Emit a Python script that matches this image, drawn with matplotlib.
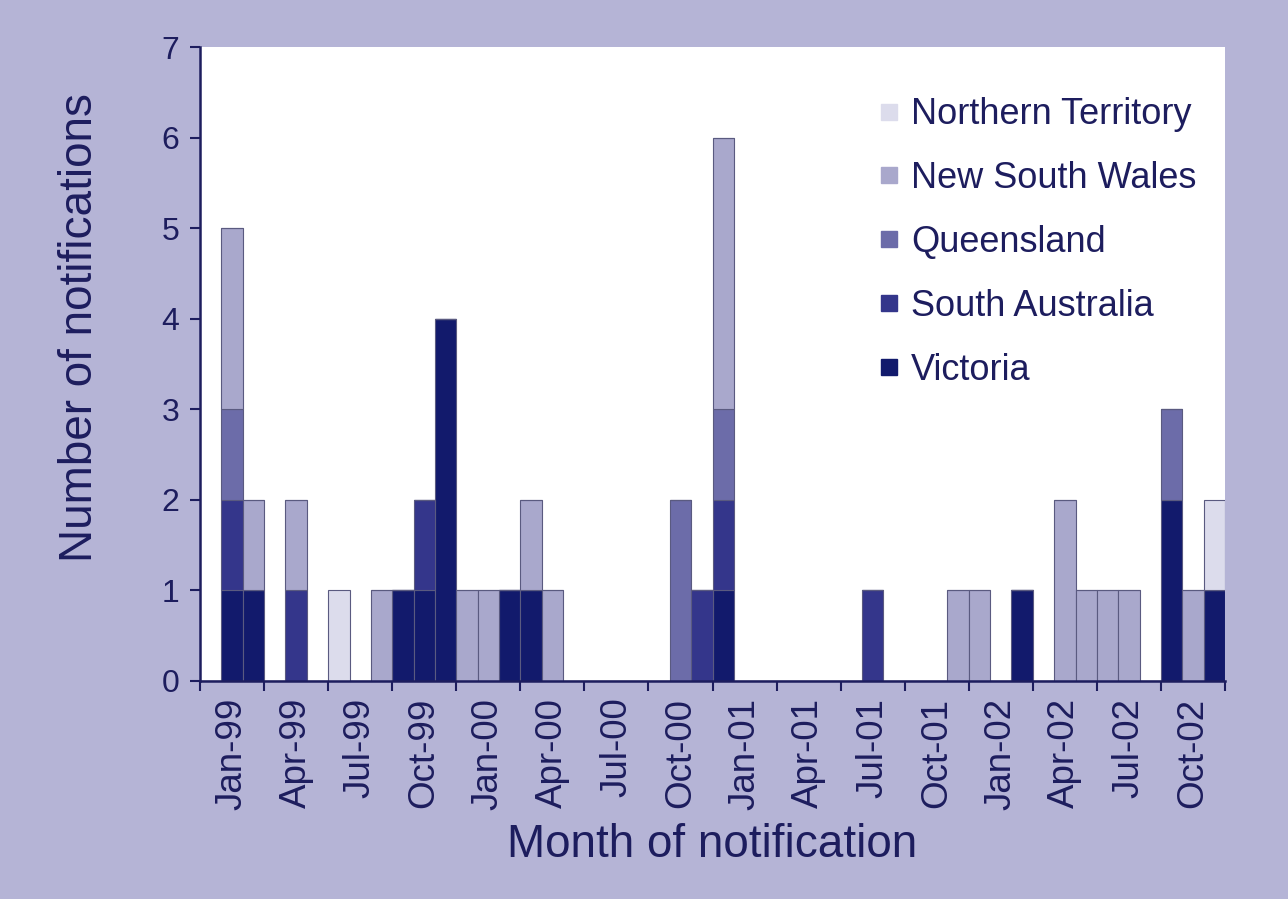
import numpy as np
import matplotlib.pyplot as plt
from matplotlib.lines import Line2D

plt.rcParams['font.family'] = ['Liberation Sans', 'DejaVu Sans']

# months on the axis, Jan-99 .. Dec-02
years = ['99', '00', '01', '02']
mnames = ['Jan', 'Feb', 'Mar', 'Apr', 'May', 'Jun', 'Jul', 'Aug', 'Sep', 'Oct', 'Nov', 'Dec']
months = [m + '-' + y for y in years for m in mnames]

# notifications per month for each state
nt  = [0,0,0,0,0,0,1,0,0,0,0,0, 0,0,0,0,0,0,0,0,0,0,0,0, 0,0,0,0,0,0,0,0,0,0,0,0, 0,0,0,0,0,0,0,0,0,0,0,1]
nsw = [0,2,1,0,1,0,0,0,1,0,0,0, 1,1,0,1,1,0,0,0,0,0,0,0, 3,0,0,0,0,0,0,0,0,0,0,1, 1,0,0,0,2,1,1,1,0,0,1,0]
qld = [0,1,0,0,0,0,0,0,0,0,0,0, 0,0,0,0,0,0,0,0,0,0,2,0, 1,0,0,0,0,0,0,0,0,0,0,0, 0,0,0,0,0,0,0,0,0,1,0,0]
sa  = [0,1,0,0,1,0,0,0,0,0,1,0, 0,0,0,0,0,0,0,0,0,0,0,1, 1,0,0,0,0,0,0,1,0,0,0,0, 0,0,0,0,0,0,0,0,0,0,0,0]
vic = [0,1,1,0,0,0,0,0,0,1,1,4, 0,0,1,1,0,0,0,0,0,0,0,0, 1,0,0,0,0,0,0,0,0,0,0,0, 0,0,1,0,0,0,0,0,0,2,0,1]

states = ['Victoria', 'South Australia', 'Queensland', 'New South Wales', 'Northern Territory']
series = [vic, sa, qld, nsw, nt]
colors = ['#121a6c', '#34368b', '#6c6ca9', '#a9a8cc', '#dcdcec']

txt = '#1d1d5e'
bg = '#b5b4d6'

fig = plt.figure(figsize=(12.88, 8.99), dpi=100)
fig.patch.set_facecolor(bg)
ax = fig.add_axes([0.1553, 0.2425, 0.7958, 0.7052])
ax.set_facecolor('white')

x = np.arange(len(months)) + 0.5
bottom = np.zeros(len(months))
for vals, col in zip(series, colors):
    vals = np.array(vals)
    ax.bar(x, vals, width=1.0, bottom=bottom, color=col,
           edgecolor='#5a5a80', linewidth=0.8)
    bottom += vals

ax.set_xlim(0, len(months))
ax.set_ylim(0, 7)
ax.set_yticks(range(8))

# ticks every quarter, labels centred in each quarter
ax.set_xticks(np.arange(0, len(months) + 1, 3))
ax.set_xticklabels([])
ax.set_xticks(np.arange(1.5, len(months), 3), minor=True)
ax.set_xticklabels(months[::3], minor=True, rotation=90, fontsize=26.5, color=txt)
ax.tick_params(axis='x', which='minor', length=0, pad=12)
ax.tick_params(axis='x', which='major', length=7, width=1.5, color=txt, direction='out')
ax.tick_params(axis='y', length=7, width=1.5, color=txt, labelsize=23, labelcolor=txt, pad=8)

for s in ['top', 'right']:
    ax.spines[s].set_visible(False)
for s in ['left', 'bottom']:
    ax.spines[s].set_color(txt)
    ax.spines[s].set_linewidth(1.8)

ax.set_ylabel('Number of notifications', fontsize=33, color=txt)
ax.set_xlabel('Month of notification', fontsize=33, color=txt)
ax.yaxis.set_label_coords(-0.117, 0.558)
ax.xaxis.set_label_coords(0.5, -0.259)
ax.xaxis.label.set_va('center')
ax.yaxis.label.set_va('center')

handles = [Line2D([0], [0], marker='s', linestyle='none', markersize=11,
                  markerfacecolor=c, markeredgecolor=c) for c in colors[::-1]]
leg = fig.legend(handles, states[::-1], loc='upper left', bbox_to_anchor=(0.668, 0.908),
                 frameon=False, fontsize=26, labelspacing=0.8, handletextpad=0.2,
                 handlelength=0.8, borderaxespad=0)
for t in leg.get_texts():
    t.set_color(txt)

fig.savefig('out.png', dpi=100, facecolor=bg)
